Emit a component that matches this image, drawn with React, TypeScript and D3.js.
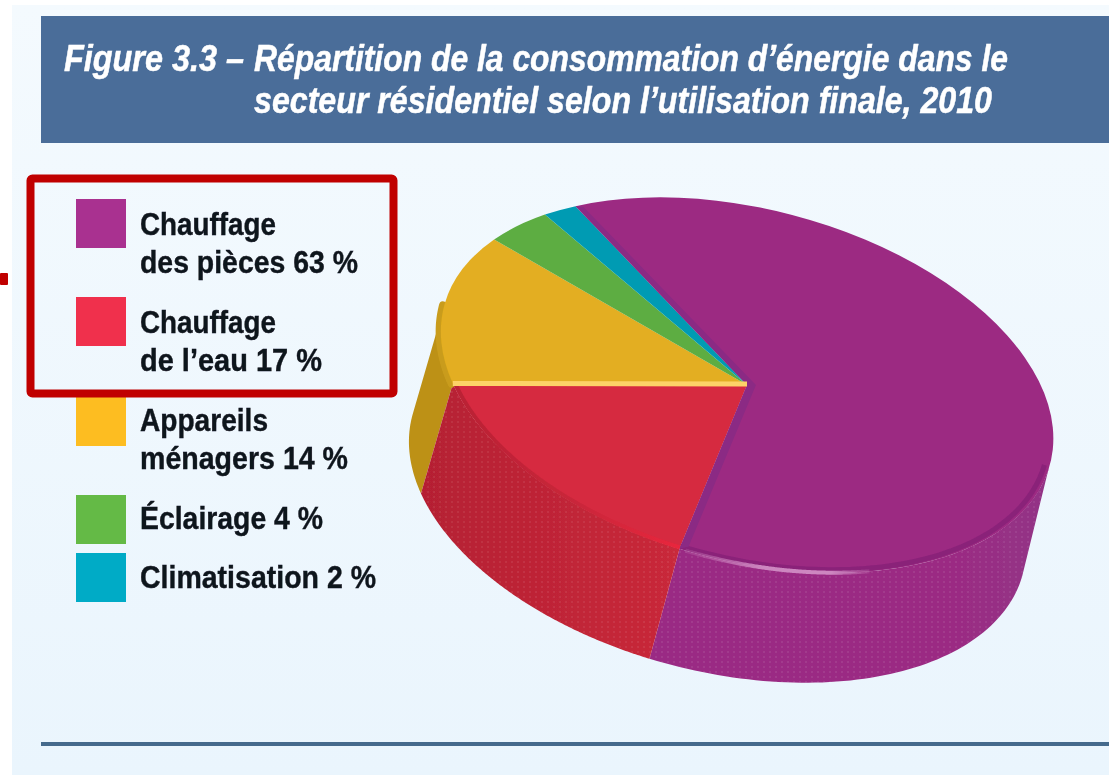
import React from "react";
import * as d3 from "d3";

const categories = ["Chauffage de l'eau", "Appareils ménagers", "Éclairage", "Climatisation", "Chauffage des pièces"];
const sliceValues = [17, 14, 4, 2, 63];
const topColors = ["#d6293f", "#e3ae20", "#5dad43", "#049bb3", "#9c2a82"];
const wallColors = ["url(#redWall)", "#bd9118", "#4b8f36", "#03809a", "url(#purpleWall)"];
const rimColors = ["url(#redRim)", "#c99c1c", "#5dad43", "#049bb3", "#8a2279"];
const rimScales = [0.992, 1.004, 1, 1, 0.984];
const rimWidths = [4, 8, 0, 0, 5];
const legendLabels = [
  ["Chauffage", "des pièces 63 %"],
  ["Chauffage", "de l’eau 17 %"],
  ["Appareils", "ménagers 14 %"],
  ["Éclairage 4 %"],
  ["Climatisation 2 %"],
];
const legendWidths = [[136, 218], [136, 182], [128, 208], [183], [236]];
const legendColors = ["#a93190", "#f0304c", "#fdbd21", "#64ba46", "#00abc6"];
const legendTops = [199, 297, 397, 495, 553];
const legendBaselines = [235, 333, 431, 529, 588];
const titleLead = "Figure 3.3 –";
const titleLines = ["Répartition de la consommation d’énergie dans le", "secteur résidentiel selon l’utilisation finale, 2010"];
const titleWidths = [754, 738];

const W = 1109, H = 776;
const cx = 747, cy = 385, rx = 313, ry = 176, tilt = 14.6;
const dropX = -29.5, dropY = 110, bottomScale = 1.008;
const startDeg = 94.4;
const rad = (tilt * Math.PI) / 180;
type Pt = [number, number];

// d3 angle (0 at 12 o'clock, clockwise) -> screen point on the tilted ellipse
const project = (a: number, scale = 1): Pt => {
  const u = rx * scale * Math.sin(a);
  const v = -ry * scale * Math.cos(a);
  return [cx + u * Math.cos(rad) - v * Math.sin(rad), cy + u * Math.sin(rad) + v * Math.cos(rad)];
};
const lower = ([x, y]: Pt, depth = 1): Pt => [
  x + (cx + dropX + bottomScale * (x - cx) - x) * depth,
  y + dropY * depth,
];

const startAngle = ((startDeg + 90) * Math.PI) / 180;
const pie = d3.pie<number>().sort(null).startAngle(startAngle).endAngle(startAngle + 2 * Math.PI);
const slices = pie(sliceValues);
const unitArc = d3.arc<d3.PieArcDatum<number>>().innerRadius(0).outerRadius(1);
const line = d3.line();
const samples = (a0: number, a1: number, n = 160) => d3.range(0, n + 1).map((i) => a0 + ((a1 - a0) * i) / n);

// keep only the part of an arc whose outer side faces the viewer
const facesFront = (a: number) => {
  const p = project(a - 0.001), q = project(a + 0.001);
  const nx = q[1] - p[1], ny = -(q[0] - p[0]);
  return nx * dropX + ny * dropY > 0;
};
const frontAngles = (a0: number, a1: number) => samples(a0, a1).filter(facesFront);
const wallPath = (a0: number, a1: number) => {
  const angles = frontAngles(a0, a1);
  if (angles.length < 2) return "";
  const top = angles.map((a) => project(a));
  return line([...top, ...top.slice().reverse().map((p) => lower(p))]) + "Z";
};
const rimPath = (a0: number, a1: number, scale: number) => {
  const angles = frontAngles(a0, a1);
  return angles.length < 2 ? "" : line(angles.map((a) => project(a, scale))) ?? "";
};

const purple = slices[4];
const purpleStart = project(purple.startAngle);
const purpleEnd = project(purple.endAngle);
const purpleSpan = purple.endAngle - purple.startAngle;
const wedgeStrip: Pt[] = [
  [cx, cy],
  purpleStart,
  [purpleStart[0] + 8, purpleStart[1] + 1],
  [cx + 9, cy],
  [purpleEnd[0] + 9, purpleEnd[1] - 2],
  purpleEnd,
];

const wallOrder = [2, 3, 1, 4, 0];
const ink = "#11141c";
const textFont = "'Liberation Sans',Arial,sans-serif";

export default function App() {
  return (
    <svg width={W} height={H} viewBox={`0 0 ${W} ${H}`} style={{ position: "fixed", left: 0, top: 0, display: "block" }}>
      <defs>
        <linearGradient id="panel" x1="0" y1="0" x2="0" y2="1">
          <stop offset="0" stopColor="#f4fafe" />
          <stop offset="1" stopColor="#eaf5fd" />
        </linearGradient>
        <linearGradient id="purpleWall" gradientUnits="userSpaceOnUse" x1={660} y1={0} x2={1050} y2={0}>
          <stop offset="0" stopColor="#9a2b84" />
          <stop offset="0.75" stopColor="#9b2b83" />
          <stop offset="1" stopColor="#923486" />
        </linearGradient>
        <linearGradient id="redWall" gradientUnits="userSpaceOnUse" x1={420} y1={0} x2={680} y2={0}>
          <stop offset="0" stopColor="#b51f33" />
          <stop offset="1" stopColor="#c9293a" />
        </linearGradient>
        <linearGradient id="redRim" gradientUnits="userSpaceOnUse" x1={450} y1={0} x2={680} y2={0}>
          <stop offset="0" stopColor="#b92034" />
          <stop offset="0.55" stopColor="#c9273a" />
          <stop offset="1" stopColor="#e9263c" />
        </linearGradient>
        <linearGradient id="shine" gradientUnits="userSpaceOnUse" x1={685} y1={0} x2={880} y2={0}>
          <stop offset="0" stopColor="#c77ab8" stopOpacity="0.2" />
          <stop offset="0.4" stopColor="#cd86c0" />
          <stop offset="0.75" stopColor="#cd86c0" />
          <stop offset="1" stopColor="#c77ab8" stopOpacity="0" />
        </linearGradient>
        <pattern id="dots" width={6} height={5} patternUnits="userSpaceOnUse">
          <circle cx={2} cy={2} r={1} fill="#ffffff" fillOpacity={0.09} />
        </pattern>
        <filter id="soft" x="-5%" y="-20%" width="110%" height="140%">
          <feGaussianBlur stdDeviation="0.45" />
        </filter>
        <filter id="softer" x="-10%" y="-10%" width="120%" height="120%">
          <feGaussianBlur stdDeviation="0.6" />
        </filter>
      </defs>
      <rect width={W} height={H} fill="#ffffff" />
      <rect x={12} y={5} width={W - 12} height={770} fill="url(#panel)" />
      <rect x={41} y={16} width={W - 41} height={127} fill="#4a6d99" />
      <g fill="#ffffff" stroke="#ffffff" strokeWidth={0.5} fontFamily={textFont} fontWeight={700} fontStyle="italic" fontSize={36} filter="url(#soft)">
        <text x={64} y={71} textLength={180} lengthAdjust="spacingAndGlyphs">{titleLead}</text>
        {titleLines.map((t, i) => (
          <text key={t} x={254} y={71 + i * 42} textLength={titleWidths[i]} lengthAdjust="spacingAndGlyphs">{t}</text>
        ))}
      </g>

      <g filter="url(#softer)">
        {/* pie walls */}
        {wallOrder.map((i) => {
          const s = slices[i];
          const d = wallPath(s.startAngle, s.endAngle);
          return d ? (
            <g key={categories[i]}>
              <path d={d} fill={wallColors[i]} />
              {(i === 0 || i === 4) && <path d={d} fill="url(#dots)" />}
            </g>
          ) : null;
        })}
        {/* bevelled rim of the yellow side sits under the top face */}
        <path
          d={rimPath(slices[1].startAngle, slices[1].endAngle, rimScales[1])}
          fill="none"
          stroke={rimColors[1]}
          strokeWidth={rimWidths[1]}
          strokeLinecap="round"
        />
        {/* pie top */}
        <g transform={`translate(${cx},${cy}) rotate(${tilt}) scale(${rx},${ry})`}>
          {slices.map((s, i) => (
            <path key={categories[i]} d={unitArc(s) ?? ""} fill={topColors[i]} />
          ))}
        </g>
        {[0, 4].map((i) => (
          <path
            key={categories[i]}
            d={rimPath(slices[i].startAngle, slices[i].endAngle, rimScales[i])}
            fill="none"
            stroke={rimColors[i]}
            strokeWidth={rimWidths[i]}
          />
        ))}
        <path
          d={rimPath(purple.startAngle + purpleSpan * 0.84, purple.endAngle - purpleSpan * 0.005, 1)}
          fill="none"
          stroke="url(#shine)"
          strokeWidth={4}
        />
        {/* bevels of the slice edges */}
        <path d={(line(wedgeStrip) ?? "") + "Z"} fill="#8b2a84" />
        <path d={line([[cx, cy - 1], project(slices[1].startAngle, 1)]) ?? ""} fill="none" stroke="#fdd268" strokeWidth={5} />
      </g>

      {/* small red mark at the left edge */}
      <rect x={0} y={273} width={8} height={12} rx={1} fill="#c00000" />
      {/* legend */}
      {legendLabels.map((lines, i) => (
        <g key={lines[0] + i}>
          <rect x={76} y={legendTops[i]} width={50} height={49} fill={legendColors[i]} />
          <g fill={ink} stroke={ink} strokeWidth={0.4} fontFamily={textFont} fontWeight={700} fontSize={32} filter="url(#soft)">
            {lines.map((t, j) => (
              <text
                key={t}
                x={140}
                y={legendBaselines[i] + j * 38}
                textLength={legendWidths[i][j]}
                lengthAdjust="spacingAndGlyphs"
              >
                {t}
              </text>
            ))}
          </g>
        </g>
      ))}
      <rect x={30.5} y={178.5} width={363} height={215} rx={2} fill="none" stroke="#c00000" strokeWidth={8} />
      <rect x={41} y={742} width={W - 41} height={4} fill="#456a8c" />
    </svg>
  );
}
